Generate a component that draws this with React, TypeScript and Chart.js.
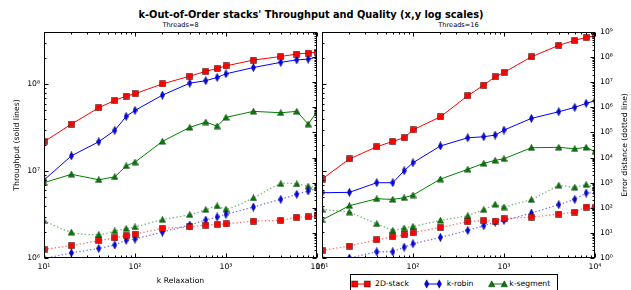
import React, { useEffect, useRef } from 'react';
import { Chart, registerables } from 'chart.js';

Chart.register(...registerables);

// ---------- data ----------
const kValues = [10, 20, 40, 60, 80, 100, 200, 400, 600, 800, 1000, 2000, 4000, 6000, 8000, 10000];

const seriesNames = ['2D-stack', 'k-robin', 'k-segment'];

// Threads=8 throughput (solid)
const t8Stack = [2.18e7, 3.48e7, 5.37e7, 6.53e7, 7.32e7, 7.78e7, 1.01e8, 1.24e8, 1.41e8, 1.52e8, 1.63e8, 1.9e8, 2.09e8, 2.23e8, 2.29e8, 2.35e8];
const t8Robin = [7.9e6, 1.5e7, 2.18e7, 2.95e7, 4.27e7, 5.0e7, 7.5e7, 1.03e8, 1.1e8, 1.2e8, 1.32e8, 1.56e8, 1.79e8, 1.91e8, 1.95e8, 2.06e8];
const t8Segment = [7.36e6, 9.2e6, 7.96e6, 8.6e6, 1.15e7, 1.27e7, 2.2e7, 3.19e7, 3.67e7, 3.3e7, 4.16e7, 4.88e7, 4.7e7, 4.88e7, 3.48e7, 4.83e7];
// Threads=8 error distance (dotted)
const e8Stack = [2.2, 3.1, 4.9, 6.4, 7.7, 9.0, 15.2, 17.2, 20.6, 21.9, 22.6, 29.7, 31.6, 41.7, 43, 48];
const e8Robin = [0.95, 1.6, 2.4, 3.3, 5.1, 5.7, 10.8, 20.6, 32.6, 43, 55, 107, 217, 344, 466, 596];
const e8Segment = [30, 10.6, 8.5, 11.9, 14.7, 17.2, 33.6, 53, 84, 118, 87, 246, 910, 888, 716, 650];

// Threads=16 throughput (solid)
const t16Stack = [8.1e6, 1.38e7, 1.91e7, 2.2e7, 2.42e7, 2.99e7, 4.22e7, 7.38e7, 9.8e7, 1.22e8, 1.37e8, 2.07e8, 2.81e8, 3.2e8, 3.47e8, 3.62e8];
const t16Robin = [5.64e6, 5.7e6, 7.36e6, 7.36e6, 1.01e7, 1.25e7, 1.95e7, 2.42e7, 2.49e7, 2.6e7, 2.97e7, 4.05e7, 4.83e7, 5.42e7, 6.03e7, 6.46e7];
const t16Segment = [2.74e6, 4.0e6, 4.81e6, 4.73e6, 4.94e6, 5.3e6, 8.1e6, 1.05e7, 1.23e7, 1.33e7, 1.39e7, 1.86e7, 1.88e7, 1.81e7, 1.88e7, 1.67e7];
// Threads=16 error distance (dotted)
const e16Stack = [2.0, 3.0, 5.3, 7.0, 8.4, 10.1, 16.5, 27.9, 30.5, 29.5, 36.7, 42.7, 56, 67.5, 107, 104];
const e16Robin = [0.95, 1.0, 1.77, 1.77, 2.7, 3.7, 6.6, 12.5, 19.3, 26.9, 31.4, 61.5, 133, 216, 387, 400];
const e16Segment = [86, 67.5, 23, 12.5, 15.5, 18, 31.4, 48, 84, 137, 107, 210, 783, 652, 833, 650];

const xMin = 10;
const xMax = 10000;
const tpMin = 1e6;
const tpMax = 4e8;
const errMin = 1;
const errMax = 1e9;

const TITLE = "k-Out-of-Order stacks' Throughput and Quality (x,y log scales)";
const SUB_LEFT = 'Threads=8';
const SUB_RIGHT = 'Threads=16';
const X_TITLE = 'k Relaxation';
const Y_TITLE = 'Throughput (solid lines)';
const E_TITLE = 'Error distance (dotted line)';

// ---------- styles ----------
const FONT = '"DejaVu Sans", "Liberation Sans", sans-serif';
const TXT = '#000';
const solidColors = ['#ff0000', '#0000ff', '#008000'];
const dottedColors = ['rgba(255,0,0,0.55)', 'rgba(0,0,255,0.55)', 'rgba(0,128,0,0.55)'];
const EDGE = 'rgba(0,0,0,0.42)';

const SUP: Record<string, string> = { '0': '⁰', '1': '¹', '2': '²', '3': '³', '4': '⁴', '5': '⁵', '6': '⁶', '7': '⁷', '8': '⁸', '9': '⁹', '-': '⁻' };
function powerLabel(v: number): string {
  const l = Math.log10(v);
  const r = Math.round(l);
  if (Math.abs(l - r) > 1e-6) return '';
  return '10' + String(r).split('').map((c) => SUP[c]).join('');
}

function logTicks(min: number, max: number): [number, boolean][] {
  const out: [number, boolean][] = [];
  const lo = Math.floor(Math.log10(min));
  const hi = Math.ceil(Math.log10(max));
  for (let d = lo; d <= hi; d++) {
    for (let m = 1; m <= 9; m++) {
      const v = m * Math.pow(10, d);
      if (v >= min * (1 - 1e-9) && v <= max * (1 + 1e-9)) out.push([v, m === 1]);
    }
  }
  return out;
}

const mplAxes = {
  id: 'mplAxes',
  afterDraw(chart: any) {
    const { ctx, chartArea: a, scales } = chart;
    const L = Math.round(a.left) + 0.5;
    const R = Math.round(a.right) - 0.5;
    const T = Math.round(a.top) + 0.5;
    const B = Math.round(a.bottom) - 0.5;
    ctx.save();
    ctx.strokeStyle = '#000';
    ctx.lineWidth = 1;
    ctx.beginPath();
    const xs = scales.x;
    for (const [v, major] of logTicks(xs.min, xs.max)) {
      const p = Math.round(xs.getPixelForValue(v)) + 0.5;
      const len = major ? 4 : 2;
      ctx.moveTo(p, B);
      ctx.lineTo(p, B - len);
      ctx.moveTo(p, T);
      ctx.lineTo(p, T + len);
    }
    const ys = scales.y;
    for (const [v, major] of logTicks(ys.min, ys.max)) {
      const p = Math.round(ys.getPixelForValue(v)) + 0.5;
      const len = major ? 4 : 2;
      ctx.moveTo(L, p);
      ctx.lineTo(L + len, p);
    }
    const es = scales.e;
    for (const [v, major] of logTicks(es.min, es.max)) {
      const p = Math.round(es.getPixelForValue(v)) + 0.5;
      const len = major ? 4 : 2;
      ctx.moveTo(R, p);
      ctx.lineTo(R - len, p);
    }
    ctx.stroke();
    ctx.strokeRect(L, T, R - L, B - T);
    ctx.restore();
  },
};

function makeMarker(kind: string, fill: string): HTMLCanvasElement {
  const c = document.createElement('canvas');
  let w = 7;
  let h = 7;
  if (kind === 'd') {
    w = 5;
    h = 9;
  }
  c.width = w;
  c.height = h;
  const g = c.getContext('2d')!;
  g.fillStyle = fill;
  g.strokeStyle = EDGE;
  g.lineWidth = 1;
  g.beginPath();
  if (kind === 's') {
    g.rect(0.5, 0.5, w - 1, h - 1);
  } else if (kind === 'd') {
    g.moveTo(w / 2, 0.3);
    g.lineTo(w - 0.3, h / 2);
    g.lineTo(w / 2, h - 0.3);
    g.lineTo(0.3, h / 2);
    g.closePath();
  } else {
    g.moveTo(w / 2, 0.3);
    g.lineTo(w - 0.3, h - 0.8);
    g.lineTo(0.3, h - 0.8);
    g.closePath();
  }
  g.fill();
  g.stroke();
  return c;
}

const markerKinds = ['s', 'd', '^'];

function buildDatasets(tp: number[][], err: number[][], markers: HTMLCanvasElement[], smoothDotted: number[]) {
  const ds: any[] = [];
  for (let i = 0; i < 3; i++) {
    ds.push({
      label: seriesNames[i],
      data: kValues.map((k, j) => ({ x: k, y: tp[i][j] })),
      yAxisID: 'y',
      borderColor: solidColors[i],
      backgroundColor: solidColors[i],
      borderWidth: 1,
      pointStyle: markers[i],
      pointRadius: 4,
      tension: 0,
      clip: 0,
    });
    ds.push({
      label: seriesNames[i] + ' error',
      data: kValues.map((k, j) => ({ x: k, y: err[i][j] })),
      yAxisID: 'e',
      borderColor: dottedColors[i],
      backgroundColor: solidColors[i],
      borderWidth: 1.3,
      borderDash: [1.4, 2.2],
      pointStyle: markers[i],
      pointRadius: 4,
      tension: smoothDotted[i],
      clip: 0,
    });
  }
  return ds;
}

const tickFont = { family: FONT, size: 7.7 };
const noGrid = { display: false, drawTicks: false, tickLength: 0 };

function xScale(withTitle: boolean) {
  return {
    type: 'logarithmic',
    position: 'bottom',
    min: xMin,
    max: xMax,
    grid: noGrid,
    border: { display: false },
    ticks: {
      callback: (v: any) => powerLabel(Number(v)),
      autoSkip: false,
      maxRotation: 0,
      font: tickFont,
      color: TXT,
      padding: 4,
    },
    title: {
      display: withTitle,
      text: X_TITLE,
      font: tickFont,
      color: TXT,
      padding: { top: 0, bottom: 4 },
    },
    afterFit: (s: any) => {
      s.height = 32;
      s.paddingLeft = 0;
      s.paddingRight = 0;
    },
  };
}

function App() {
  const leftRef = useRef<HTMLCanvasElement>(null);
  const rightRef = useRef<HTMLCanvasElement>(null);

  useEffect(() => {
    const markers = markerKinds.map((k, i) => makeMarker(k, solidColors[i]));
    const common = {
      responsive: false,
      animation: false,
      events: [],
      plugins: { legend: { display: false }, tooltip: { enabled: false } },
    };
    const left = new Chart(leftRef.current!, {
      type: 'line',
      data: {
        datasets: buildDatasets([t8Stack, t8Robin, t8Segment], [e8Stack, e8Robin, e8Segment], markers, [0, 0, 0.3]),
      },
      options: {
        ...common,
        layout: { padding: { left: 0, right: 13, top: 32, bottom: 0 } },
        scales: {
          x: xScale(true),
          y: {
            type: 'logarithmic',
            position: 'left',
            min: tpMin,
            max: tpMax,
            grid: noGrid,
            border: { display: false },
            ticks: {
              callback: (v: any) => powerLabel(Number(v)),
              autoSkip: false,
              font: tickFont,
              color: TXT,
              padding: 4,
            },
            title: {
              display: true,
              text: Y_TITLE,
              font: tickFont,
              color: TXT,
              padding: { top: 12, bottom: 0 },
            },
            afterFit: (s: any) => {
              s.width = 44;
              s.paddingTop = 0;
              s.paddingBottom = 0;
            },
          },
          e: {
            type: 'logarithmic',
            position: 'right',
            display: false,
            min: errMin,
            max: errMax,
          },
        },
      } as any,
      plugins: [mplAxes],
    } as any);

    const right = new Chart(rightRef.current!, {
      type: 'line',
      data: {
        datasets: buildDatasets([t16Stack, t16Robin, t16Segment], [e16Stack, e16Robin, e16Segment], markers, [0, 0, 0]),
      },
      options: {
        ...common,
        layout: { padding: { left: 10, right: 0, top: 32, bottom: 0 } },
        scales: {
          x: xScale(false),
          y: {
            type: 'logarithmic',
            position: 'left',
            display: false,
            min: tpMin,
            max: tpMax,
          },
          e: {
            type: 'logarithmic',
            position: 'right',
            min: errMin,
            max: errMax,
            grid: noGrid,
            border: { display: false },
            ticks: {
              callback: (v: any) => powerLabel(Number(v)),
              autoSkip: false,
              font: tickFont,
              color: TXT,
              padding: 5,
            },
            afterFit: (s: any) => {
              s.width = 36;
              s.paddingTop = 0;
              s.paddingBottom = 0;
            },
          },
        },
      } as any,
      plugins: [mplAxes],
    } as any);

    return () => {
      left.destroy();
      right.destroy();
    };
  }, []);

  const legendItems = [
    { name: seriesNames[0], c: 360.6, text: 375, kind: 's' },
    { name: seriesNames[1], c: 432.8, text: 446.7, kind: 'd' },
    { name: seriesNames[2], c: 498.3, text: 509.3, kind: '^' },
  ];

  const svgMarker = (kind: string, cx: number, cy: number, fill: string, key: string) => {
    if (kind === 's') return <rect key={key} x={cx - 3} y={cy - 3} width={6} height={6} fill={fill} stroke={EDGE} strokeWidth={1} />;
    if (kind === 'd')
      return <polygon key={key} points={`${cx},${cy - 4.2} ${cx + 2.2},${cy} ${cx},${cy + 4.2} ${cx - 2.2},${cy}`} fill={fill} stroke={EDGE} strokeWidth={1} />;
    return <polygon key={key} points={`${cx},${cy - 3.2} ${cx + 3.2},${cy + 2.8} ${cx - 3.2},${cy + 2.8}`} fill={fill} stroke={EDGE} strokeWidth={1} />;
  };

  return (
    <div style={{ position: 'relative', width: 631, height: 290, overflow: 'hidden', background: '#fff', fontFamily: FONT, color: TXT }}>
      <style>{'body{margin:0}'}</style>
      <div style={{ position: 'absolute', left: 0, width: 622, top: 9, textAlign: 'center', fontSize: 9.8, fontWeight: 'bold', lineHeight: '12px', whiteSpace: 'nowrap' }}>
        {TITLE}
      </div>
      <div style={{ position: 'absolute', left: 44, width: 273, top: 20.5, textAlign: 'center', fontSize: 6.6, lineHeight: '8px' }}>{SUB_LEFT}</div>
      <div style={{ position: 'absolute', left: 322, width: 273, top: 20.5, textAlign: 'center', fontSize: 6.6, lineHeight: '8px' }}>{SUB_RIGHT}</div>
      <canvas ref={leftRef} width={330} height={290} style={{ position: 'absolute', left: 0, top: 0 }} />
      <canvas ref={rightRef} width={319} height={290} style={{ position: 'absolute', left: 312, top: 0 }} />
      <div
        style={{
          position: 'absolute',
          left: 625 - 100,
          top: 145 - 5,
          width: 200,
          height: 10,
          lineHeight: '10px',
          textAlign: 'center',
          fontSize: 7.7,
          transform: 'rotate(-90deg)',
          whiteSpace: 'nowrap',
        }}
      >
        {E_TITLE}
      </div>
      <div style={{ position: 'absolute', left: 350, top: 274, width: 208, height: 24, border: '1px solid #000', boxSizing: 'border-box', background: '#fff' }}>
        {legendItems.map((it, i) => (
          <React.Fragment key={it.name}>
            <svg width={26} height={12} style={{ position: 'absolute', left: it.c - 13 - 351, top: 2.5 }}>
              <line x1={6.7} y1={6} x2={19.3} y2={6} stroke={solidColors[i]} strokeWidth={1} />
              {svgMarker(it.kind, 6.7, 6, solidColors[i], 'a')}
              {svgMarker(it.kind, 19.3, 6, solidColors[i], 'b')}
            </svg>
            <div style={{ position: 'absolute', left: it.text - 351, top: 3.5, fontSize: 7.7, lineHeight: '10px', whiteSpace: 'nowrap' }}>{it.name}</div>
          </React.Fragment>
        ))}
      </div>
    </div>
  );
}

export default App;
